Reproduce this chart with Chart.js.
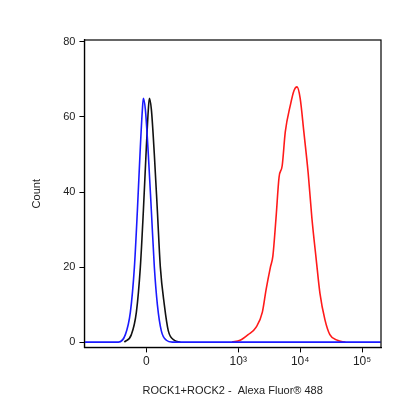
<!DOCTYPE html>
<html><head><meta charset="utf-8">
<script src="https://cdn.jsdelivr.net/npm/chart.js@4/dist/chart.umd.min.js"></script>
<style>html,body{margin:0;background:#fff}#c{width:416px;height:416px}</style>
</head><body><div id="c"><canvas id="hist"></canvas></div>
<script>
// x in decade units (biexponential display): 0 -> 1.516, 10^3 -> 3, 10^4 -> 4, 10^5 -> 5
const xTicks = [1.516, 3, 4, 5];
const xTickLabels = ['0', '10³', '10⁴', '10⁵'];
const yTicks = [0, 20, 40, 60, 80];

const blueX = [0.52, 1.065, 1.177, 1.258, 1.323, 1.371, 1.419, 1.452, 1.468, 1.500, 1.548, 1.597, 1.645, 1.694, 1.758, 1.839, 1.935, 5.3];
const blueY = [0, 0, 2, 8, 20, 35, 52, 62, 65, 62, 50, 35, 20, 10, 3, 0.5, 0, 0];
const blackX = [1.161, 1.274, 1.355, 1.419, 1.468, 1.516, 1.548, 1.565, 1.597, 1.645, 1.694, 1.742, 1.806, 1.871, 1.968, 2.065];
const blackY = [0, 2, 8, 20, 35, 52, 62, 65, 62, 50, 35, 20, 10, 3, 0.5, 0];
const redX = [2.90, 3.03, 3.16, 3.29, 3.39, 3.45, 3.52, 3.56, 3.61, 3.66, 3.71, 3.76, 3.84, 3.90, 3.95, 4.00, 4.06, 4.13, 4.19, 4.26, 4.32, 4.40, 4.48, 4.60, 4.73];
const redY = [0, 0.5, 2, 4, 8, 14, 20, 23, 33, 44, 47, 56, 63, 67, 68, 65, 56, 45, 33, 22, 13, 6, 2, 0.5, 0];

const pts = (xs, ys) => xs.map((x, i) => ({x: x, y: ys[i]}));
const line = (label, xs, ys, color) => ({
  label: label, data: pts(xs, ys), borderColor: color, borderWidth: 1.6,
  pointRadius: 0, cubicInterpolationMode: 'monotone', fill: false
});

const ctx = document.getElementById('hist');
const hist = new Chart(ctx, {
  type: 'line',
  data: {
    datasets: [
      line('blue', blueX, blueY, '#1a1aff'),
      line('black', blackX, blackY, '#111'),
      line('red', redX, redY, '#ff1a1a')
    ]
  },
  options: {
    responsive: true, maintainAspectRatio: false, animation: false,
    layout: {padding: {left: 26, right: 35, top: 40, bottom: 14}},
    plugins: {legend: {display: false}, tooltip: {enabled: false}},
    scales: {
      x: {
        type: 'linear', min: 0.516, max: 5.306,
        afterBuildTicks: a => { a.ticks = xTicks.map(v => ({value: v})); },
        ticks: {callback: (v, i) => xTickLabels[i], color: '#222', font: {family: 'Liberation Sans', size: 12}, padding: 2, maxRotation: 0},
        grid: {display: true, drawOnChartArea: false, tickLength: 5, tickColor: '#000'},
        border: {color: '#000', width: 1.2},
        title: {display: true, text: 'ROCK1+ROCK2 -  Alexa Fluor® 488', color: '#222', font: {family: 'Liberation Sans', size: 11}, padding: {top: 14}}
      },
      y: {
        type: 'linear', min: -1.4, max: 80.5,
        afterBuildTicks: a => { a.ticks = yTicks.map(v => ({value: v})); },
        ticks: {color: '#222', font: {family: 'Liberation Sans', size: 11}, padding: 4},
        grid: {display: true, drawOnChartArea: false, tickLength: 5, tickColor: '#000'},
        border: {color: '#000', width: 1.2},
        title: {display: true, text: 'Count', color: '#222', font: {family: 'Liberation Sans', size: 11}, padding: {bottom: 16}}
      }
    }
  },
  plugins: [{
    id: 'frame',
    afterDraw(c) {
      const a = c.chartArea, g = c.ctx;
      g.save(); g.strokeStyle = '#000'; g.lineWidth = 1.2;
      g.strokeRect(a.left, a.top, a.right - a.left, a.bottom - a.top);
      g.restore();
    }
  }]
});
</script></body></html>
